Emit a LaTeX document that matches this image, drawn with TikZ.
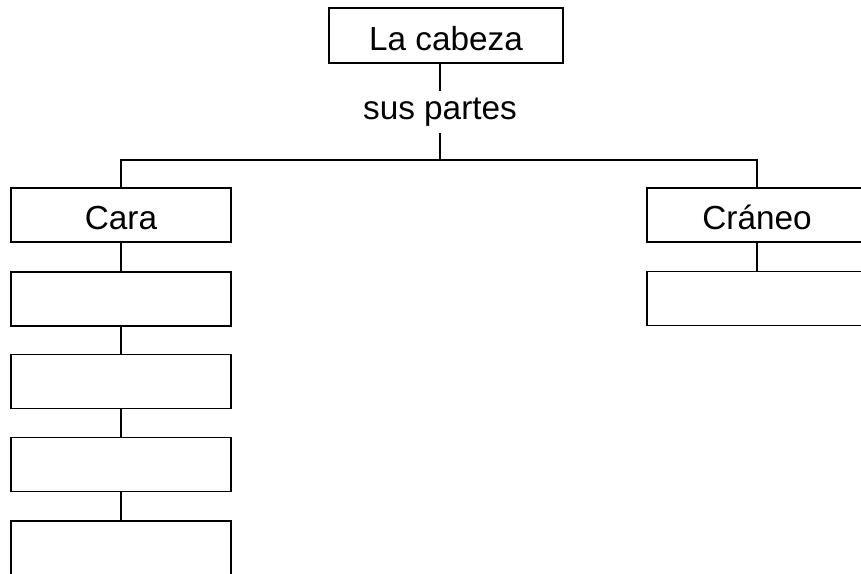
\documentclass[tikz,border=0pt]{standalone}
\usepackage{fontspec}
\setmainfont{Liberation Sans}
\begin{document}
\begin{tikzpicture}[x=0.75pt,y=-0.75pt,
    part/.style={draw,line width=1.4pt,inner sep=0pt,minimum width=165pt,minimum height=40.5pt,
        text height=22pt,text depth=0pt,font=\fontsize{25}{30}\selectfont},
    link/.style={line width=1.3pt}]
    \fill[white] (0,0) rectangle (861,574);
    \clip (0,0) rectangle (861,574);

    % Head and its label
    \node[part,minimum width=175.5pt,minimum height=41pt] (cabeza) at (446,35.5) {La cabeza};
    \node[inner sep=0pt,minimum height=31.5pt,font=\fontsize{25}{30}\selectfont] (partes) at (440,112) {sus partes};
    \coordinate (bus) at (440,160);

    % Face and skull
    \node[part] (cara) at (121,215) {Cara};
    \node[part] (craneo) at (757,215) {Cráneo};

    % Empty boxes below the face
    \foreach \n/\y in {1/299,2/381.5,3/464.5,4/548} {
        \node[part] (cara\n) at (121,\y) {};
    }
    \node[part] (craneo1) at (757,298.5) {};

    % Connectors
    \draw[link] (cabeza.south -| partes.north) -- (partes.north);
    \draw[link] (partes.south) -- (bus);
    \draw[link] (cara.north) |- (bus) -| (craneo.north);
    \draw[link] (cara.south) -- (cara1.north);
    \foreach \a/\b in {1/2,2/3,3/4} {
        \draw[link] (cara\a.south) -- (cara\b.north);
    }
    \draw[link] (craneo.south) -- (craneo1.north);
\end{tikzpicture}
\end{document}
